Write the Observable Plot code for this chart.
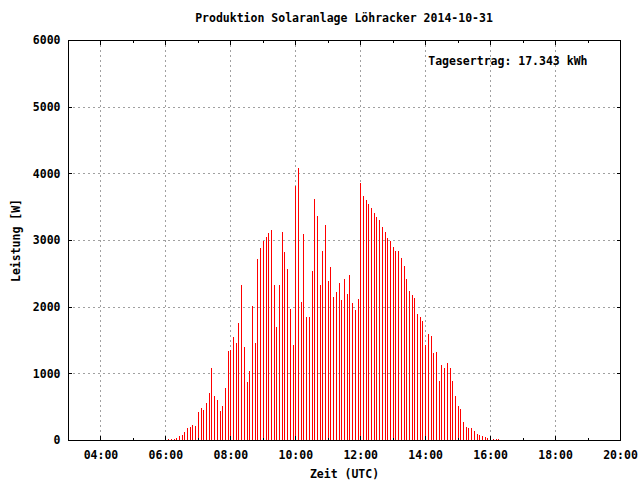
<!DOCTYPE html>
<html>
<head>
<meta charset="utf-8">
<script src="https://cdn.jsdelivr.net/npm/d3@7"></script>
<script src="https://cdn.jsdelivr.net/npm/@observablehq/plot@0.6"></script>
<style>
  body { margin: 0; background: #fff; }
  #title { width: 640px; height: 30px; box-sizing: border-box; padding-top: 12px; padding-left: 48px;
           text-align: center; font: bold 11.5px "DejaVu Sans Mono", monospace; line-height: 12px; color: #000; }
</style>
</head>
<body>
<div id="title">Produktion Solaranlage Löhracker 2014-10-31</div>
<div id="chart"></div>
<script>
const titleText = "Produktion Solaranlage Löhracker 2014-10-31";
const xLabel = "Zeit (UTC)";
const yLabel = "Leistung [W]";
const yieldLabel = "Tagesertrag: 17.343 kWh";

const times = [
  "06:05","06:10","06:15","06:20","06:25","06:30","06:35","06:40","06:45","06:50","06:55",
  "07:00","07:05","07:10","07:15","07:20","07:25","07:30","07:35","07:40","07:45","07:50","07:55",
  "08:00","08:05","08:10","08:15","08:20","08:25","08:30","08:35","08:40","08:45","08:50","08:55",
  "09:00","09:05","09:10","09:15","09:20","09:25","09:30","09:35","09:40","09:45","09:50","09:55",
  "10:00","10:05","10:10","10:15","10:20","10:25","10:30","10:35","10:40","10:45","10:50","10:55",
  "11:00","11:05","11:10","11:15","11:20","11:25","11:30","11:35","11:40","11:45","11:50","11:55",
  "12:00","12:05","12:10","12:15","12:20","12:25","12:30","12:35","12:40","12:45","12:50","12:55",
  "13:00","13:05","13:10","13:15","13:20","13:25","13:30","13:35","13:40","13:45","13:50","13:55",
  "14:00","14:05","14:10","14:15","14:20","14:25","14:30","14:35","14:40","14:45","14:50","14:55",
  "15:00","15:05","15:10","15:15","15:20","15:25","15:30","15:35","15:40","15:45","15:50","15:55",
  "16:00","16:05","16:10","16:15"
];
const power = [
  15,15,15,30,60,75,120,180,195,225,210,
  420,480,450,555,705,1080,660,600,435,510,780,1335,
  1350,1545,1455,1755,2325,1395,870,1035,2010,1455,2715,2880,
  2985,3045,3105,3150,2325,1695,2325,3120,2820,2565,1965,1425,
  3810,4080,2070,3090,1845,1845,2535,3615,3360,2325,2835,3225,
  2385,2595,2145,2220,2355,2100,2415,2190,2475,2055,1950,2115,
  3855,3660,3600,3540,3480,3405,3345,3300,3195,3120,3030,2985,
  2895,2835,2835,2730,2610,2415,2235,2175,2130,1890,1845,1785,
  1425,1590,1560,1305,1320,885,1125,1080,1155,1080,885,660,
  510,465,270,195,180,180,135,90,75,60,45,30,
  20,15,15,15
];
const xDomainLabels = ["03:00", "20:00"];
const xMajorLabels = ["04:00","06:00","08:00","10:00","12:00","14:00","16:00","18:00","20:00"];
const xMinorLabels = ["03:00","05:00","07:00","09:00","11:00","13:00","15:00","17:00","19:00"];
const yTicks = [0, 1000, 2000, 3000, 4000, 5000, 6000];

const parse = s => new Date(Date.UTC(2014, 9, 31, +s.slice(0, 2), +s.slice(3, 5)));
const data = times.map((t, i) => ({time: parse(t), power: power[i]}));
const majorTicks = xMajorLabels.map(parse);
const minorTicks = xMinorLabels.map(parse);
const fmt = d3.utcFormat("%H:%M");
const gridStyle = {stroke: "#a0a0a0", strokeOpacity: 1, strokeWidth: 1, strokeDasharray: "2,3", shapeRendering: "crispEdges"};

const chart = Plot.plot({
  width: 640,
  height: 450,
  marginLeft: 68,
  marginRight: 20,
  marginTop: 10,
  marginBottom: 40,
  style: {fontFamily: "'DejaVu Sans Mono', monospace", fontWeight: "bold", fontSize: "11.5px", background: "#fff", color: "#000"},
  x: {type: "utc", domain: xDomainLabels.map(parse)},
  y: {domain: [0, 6000]},
  marks: [
    Plot.gridX(majorTicks.slice(0, -1), gridStyle),
    Plot.gridY(yTicks.slice(1, -1), gridStyle),
    Plot.ruleX(data, {x: "time", y1: 0, y2: "power", stroke: "#ff0000", strokeWidth: 1, shapeRendering: "crispEdges"}),
    Plot.axisX({anchor: "bottom", ticks: majorTicks, tickSize: -4, tickPadding: 14, tickFormat: fmt,
                label: xLabel, labelAnchor: "center", labelOffset: 37, labelArrow: "none", shapeRendering: "crispEdges"}),
    Plot.axisX({anchor: "bottom", ticks: minorTicks, tickSize: -2, tickFormat: () => "", label: null, shapeRendering: "crispEdges"}),
    Plot.axisX({anchor: "top", ticks: majorTicks, tickSize: -4, tickFormat: () => "", label: null, shapeRendering: "crispEdges"}),
    Plot.axisX({anchor: "top", ticks: minorTicks, tickSize: -2, tickFormat: () => "", label: null, shapeRendering: "crispEdges"}),
    Plot.axisY({anchor: "left", ticks: yTicks, tickSize: -4, tickPadding: 12, tickFormat: d => String(d),
                label: yLabel, labelAnchor: "center", labelOffset: 57, labelArrow: "none", shapeRendering: "crispEdges"}),
    Plot.axisY({anchor: "right", ticks: yTicks, tickSize: -4, tickFormat: () => "", label: null, shapeRendering: "crispEdges"}),
    Plot.frame({stroke: "#000", strokeWidth: 1, shapeRendering: "crispEdges"}),
    Plot.text([yieldLabel], {frameAnchor: "top-right", dx: -33, dy: 16, textAnchor: "end", fill: "#000"})
  ]
});
document.getElementById("chart").appendChild(chart);
</script>
</body>
</html>
